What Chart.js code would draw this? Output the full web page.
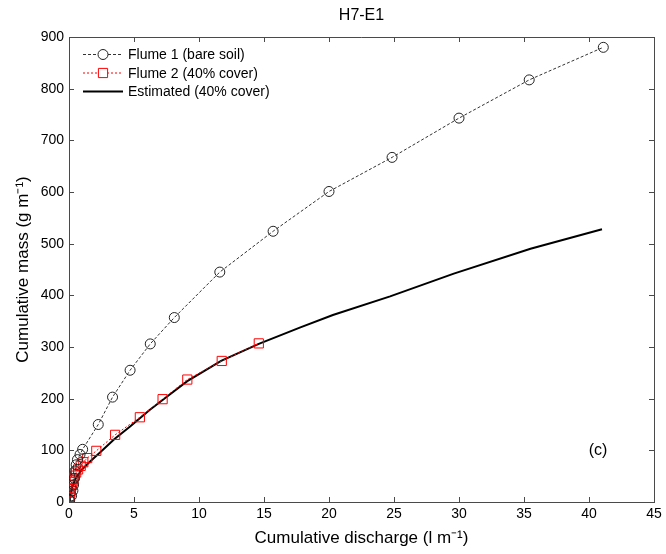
<!DOCTYPE html>
<html>
<head>
<meta charset="utf-8">
<script src="https://cdn.jsdelivr.net/npm/chart.js@4.4.1/dist/chart.umd.min.js"></script>
<style>
	html, body { margin: 0; padding: 0; background: #fff; }
	#wrap { width: 666px; height: 554px; }
</style>
</head>
<body>
<div id="wrap"><canvas id="mass"></canvas></div>
<script>
// values
const flume1X = [0.05, 0.2, 0.3, 0.35, 0.4, 0.46, 0.55, 0.65, 0.85, 1.05, 2.25, 3.35, 4.7, 6.25, 8.1, 11.6, 15.7, 20.0, 24.85, 30.0, 35.4, 41.1]
const flume1Y = [3, 12, 22, 33, 46, 60, 72, 82, 92, 102, 150, 203, 255, 306, 357, 445, 524, 601, 667, 743, 817, 880]

const flume2X = [0.02, 0.05, 0.1, 0.15, 0.2, 0.28, 0.36, 0.45, 0.55, 0.7, 0.9, 1.1, 1.4, 2.1, 3.55, 5.45, 7.2, 9.1, 11.75, 14.6]
const flume2Y = [2, 10, 18, 25, 32, 39, 45, 51, 57, 63, 70, 77, 85, 99, 130, 164, 199, 237, 273, 307]

const estX = [0.05, 0.1, 0.25, 0.5, 1.0, 1.6, 2.3, 3.5, 4.7, 6.2, 7.7, 9.1, 11.7, 14.6, 17.8, 20.3, 24.7, 29.6, 35.5, 41.0]
const estY = [0, 14, 30, 45, 63, 78, 94, 122, 146, 178, 207, 234, 273, 306, 338, 362, 398, 442, 490, 528]

const xTicks = [0, 5, 10, 15, 20, 25, 30, 35, 40, 45]
const yTicks = [0, 100, 200, 300, 400, 500, 600, 700, 800, 900]

const seriesNames = ["Flume 1 (bare soil)", "Flume 2 (40% cover)", "Estimated (40% cover)"]

const FONT = "'Liberation Sans', Arial, sans-serif"
const AXIS_COLOR = "#4a4a4a"

function toPoints(xs, ys) {
	return xs.map((x, i) => ({ x: x, y: ys[i] }))
}

// MATLAB style box: inward ticks on all four sides
const boxTicks = {
	id: "boxTicks",
	afterDatasetsDraw(chart) {
		const { ctx, chartArea: a, scales } = chart
		ctx.save()
		ctx.strokeStyle = AXIS_COLOR
		ctx.lineWidth = 1
		ctx.beginPath()
		ctx.moveTo(a.left, a.top + 0.5)
		ctx.lineTo(a.right + 0.5, a.top + 0.5)
		ctx.lineTo(a.right + 0.5, a.bottom)
		xTicks.forEach(v => {
			let px = Math.round(scales.x.getPixelForValue(v)) + 0.5
			ctx.moveTo(px, a.bottom); ctx.lineTo(px, a.bottom - 5)
			ctx.moveTo(px, a.top); ctx.lineTo(px, a.top + 5)
		})
		yTicks.forEach(v => {
			let py = Math.round(scales.y.getPixelForValue(v)) + 0.5
			ctx.moveTo(a.left, py); ctx.lineTo(a.left + 5, py)
			ctx.moveTo(a.right, py); ctx.lineTo(a.right - 5, py)
		})
		ctx.stroke()

		// panel label
		ctx.fillStyle = "#000"
		ctx.font = "16px " + FONT
		ctx.textAlign = "center"
		ctx.textBaseline = "middle"
		ctx.fillText("(c)", scales.x.getPixelForValue(40.7), scales.y.getPixelForValue(100))
		ctx.restore()
	}
}

// legend inside the axes, top-left
const innerLegend = {
	id: "innerLegend",
	afterDraw(chart) {
		const { ctx, chartArea: a } = chart
		ctx.save()
		chart.data.datasets.forEach((ds, i) => {
			let y = a.top + 17.5 + i * 18.5
			let x0 = a.left + 14
			let x1 = x0 + 40
			ctx.strokeStyle = ds.borderColor
			ctx.lineWidth = ds.borderWidth
			ctx.setLineDash(ds.borderDash || [])
			ctx.beginPath()
			ctx.moveTo(x0, y)
			ctx.lineTo(x1, y)
			ctx.stroke()
			ctx.setLineDash([])
			if (ds.pointRadius > 0) {
				ctx.fillStyle = "#ffffff"
				ctx.strokeStyle = ds.pointBorderColor
				ctx.lineWidth = 1
				Chart.helpers.drawPoint(ctx, {
					pointStyle: ds.pointStyle,
					radius: ds.pointRadius,
					borderWidth: 1,
					rotation: 0
				}, (x0 + x1) / 2, y)
			}
			ctx.fillStyle = "#000"
			ctx.font = "14px " + FONT
			ctx.textAlign = "left"
			ctx.textBaseline = "middle"
			ctx.fillText(ds.label, x1 + 5, y + 1)
		})
		ctx.restore()
	}
}

const ctx = document.getElementById("mass").getContext("2d")
const chart = new Chart(ctx, {
	type: "scatter",
	data: {
		datasets: [
			{
				label: seriesNames[0],
				data: toPoints(flume1X, flume1Y),
				showLine: true,
				borderColor: "#333333",
				borderWidth: 1,
				borderDash: [3, 2],
				pointStyle: "circle",
				pointRadius: 5,
				pointBorderWidth: 1,
				pointBorderColor: "#222222",
				pointBackgroundColor: "rgba(0,0,0,0)",
				backgroundColor: "rgba(0,0,0,0)"
			},
			{
				label: seriesNames[1],
				data: toPoints(flume2X, flume2Y),
				showLine: true,
				borderColor: "#ff0000",
				borderWidth: 1,
				borderDash: [2, 2],
				pointStyle: "rect",
				pointRadius: 6.5,
				pointBorderWidth: 1,
				pointBorderColor: "#ff0000",
				pointBackgroundColor: "rgba(0,0,0,0)",
				backgroundColor: "rgba(0,0,0,0)"
			},
			{
				label: seriesNames[2],
				data: toPoints(estX, estY),
				showLine: true,
				borderColor: "#000000",
				borderWidth: 2,
				pointRadius: 0,
				backgroundColor: "rgba(0,0,0,0)"
			}
		]
	},
	options: {
		responsive: true,
		maintainAspectRatio: false,
		animation: false,
		devicePixelRatio: 1,
		layout: { padding: { left: 0, right: 12, top: 0, bottom: 0 } },
		plugins: {
			legend: { display: false },
			tooltip: { enabled: false },
			title: {
				display: true,
				text: "H7-E1",
				fullSize: false,
				color: "#000",
				font: { family: FONT, size: 16, weight: "normal" },
				padding: { top: 6, bottom: 11.8 }
			}
		},
		scales: {
			x: {
				type: "linear",
				min: 0,
				max: 45,
				afterFit: s => { s.height = 52 },
				afterBuildTicks: s => { s.ticks = xTicks.map(v => ({ value: v })) },
				border: { display: true, color: AXIS_COLOR, width: 1 },
				grid: { display: true, drawOnChartArea: false, drawTicks: false },
				ticks: { color: "#000", font: { family: FONT, size: 14 }, padding: 4, maxRotation: 0 },
				title: {
					display: true,
					text: "Cumulative discharge (l m\u207B\u00B9)",
					color: "#000",
					font: { family: FONT, size: 17 },
					padding: { top: 2, bottom: 5.8 }
				}
			},
			y: {
				type: "linear",
				min: 0,
				max: 900,
				afterFit: s => { s.width = 69 },
				afterBuildTicks: s => { s.ticks = yTicks.map(v => ({ value: v })) },
				border: { display: true, color: AXIS_COLOR, width: 1 },
				grid: { display: true, drawOnChartArea: false, drawTicks: false },
				ticks: { color: "#000", font: { family: FONT, size: 14 }, padding: 5 },
				title: {
					display: true,
					text: "Cumulative mass (g m\u207B\u00B9)",
					color: "#000",
					font: { family: FONT, size: 17 },
					padding: { top: 12.8, bottom: 0 }
				}
			}
		}
	},
	plugins: [boxTicks, innerLegend]
})
</script>
</body>
</html>
